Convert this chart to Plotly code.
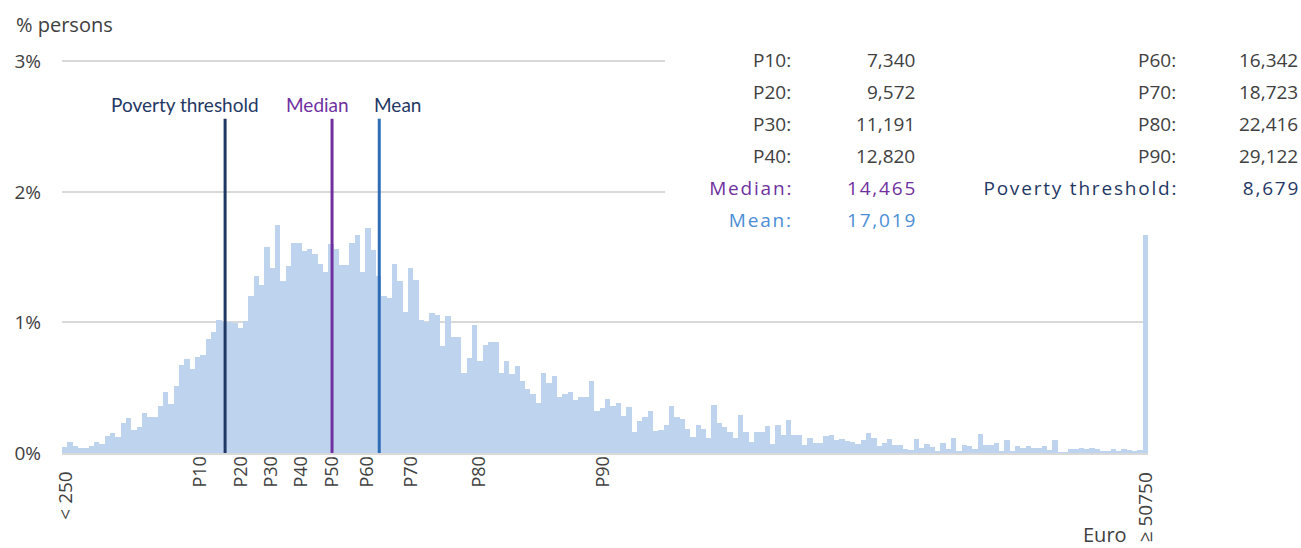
import plotly.graph_objects as go

# share of persons per 250-euro income band, first band "< 250", last "≥ 50750"
shares = [
    0.046, 0.084, 0.056, 0.041, 0.038, 0.056, 0.082, 0.069, 0.133, 0.153,
    0.125, 0.227, 0.268, 0.176, 0.200, 0.306, 0.278, 0.278, 0.360, 0.464,
    0.372, 0.513, 0.676, 0.722, 0.640, 0.737, 0.750, 0.872, 0.929, 1.020,
    1.005, 1.005, 0.997, 0.960, 1.013, 1.204, 1.352, 1.290, 1.577, 1.420,
    1.745, 1.319, 1.436, 1.612, 1.610, 1.548, 1.559, 1.526, 1.446, 1.388,
    1.600, 1.561, 1.441, 1.439, 1.610, 1.671, 1.385, 1.722, 1.551, 1.355,
    1.200, 1.190, 1.444, 1.319, 1.079, 1.418, 1.324, 1.015, 1.000, 1.071,
    1.059, 0.821, 1.051, 0.890, 0.890, 0.612, 0.724, 0.977, 0.704, 0.829,
    0.849, 0.849, 0.615, 0.704, 0.607, 0.668, 0.554, 0.490, 0.452, 0.383,
    0.612, 0.536, 0.587, 0.431, 0.452, 0.464, 0.408, 0.431, 0.429, 0.551,
    0.319, 0.342, 0.411, 0.360, 0.383, 0.283, 0.349, 0.161, 0.242, 0.276,
    0.321, 0.166, 0.176, 0.214, 0.362, 0.276, 0.260, 0.181, 0.120, 0.212,
    0.181, 0.112, 0.370, 0.232, 0.199, 0.161, 0.112, 0.291, 0.161, 0.082,
    0.158, 0.158, 0.209, 0.071, 0.212, 0.135, 0.255, 0.135, 0.140, 0.064,
    0.112, 0.079, 0.077, 0.128, 0.135, 0.099, 0.105, 0.094, 0.087, 0.071,
    0.097, 0.153, 0.118, 0.056, 0.077, 0.105, 0.059, 0.059, 0.033, 0.020,
    0.105, 0.038, 0.069, 0.043, 0.015, 0.077, 0.028, 0.112, 0.018, 0.059,
    0.054, 0.033, 0.143, 0.064, 0.064, 0.077, 0.015, 0.099, 0.010, 0.056,
    0.041, 0.056, 0.041, 0.041, 0.051, 0.026, 0.097, 0.005, 0.005, 0.033,
    0.033, 0.038, 0.033, 0.038, 0.031, 0.015, 0.010, 0.028, 0.010, 0.031,
    0.020, 0.008, 0.023, 1.668,
]
first_band = "&lt; 250"
last_band = "≥ 50750"

pct_names = ["P10", "P20", "P30", "P40", "P50", "P60", "P70", "P80", "P90"]
pct_values = [7340, 9572, 11191, 12820, 14465, 16342, 18723, 22416, 29122]

poverty = 8679
median = 14465
mean = 17019

y_ticks = [0, 1, 2, 3]

# the source chart places its markers at roughly 288 euro per band
EURO_PER_BAND = 288

BAR = "#BDD3EE"
NAVY = "#1F3864"
PURPLE = "#7030A0"
BLUE_LINE = "#2E6DB5"
BLUE_TEXT = "#4A8ED6"
GREY = "#404040"
GRID = "#D9D9D9"

# plot area in pixels, used to place the free texts
L, R, T, B = 62, 1148, 60, 453


def pos(v):
    return v / EURO_PER_BAND


def px(x):
    return (x - L) / (R - L)


def py(y):
    return (B - y) / (B - T)


fig = go.Figure()
fig.add_trace(go.Bar(
    x=list(range(len(shares))), y=shares,
    marker=dict(color=BAR, line=dict(width=0)),
    hoverinfo="skip",
))

fig.update_layout(
    width=1301, height=548,
    margin=dict(l=L, r=1301 - R, t=T, b=548 - B),
    paper_bgcolor="white", plot_bgcolor="white",
    showlegend=False, bargap=0,
    font=dict(family="Open Sans", color=GREY),
    xaxis=dict(
        range=[-0.5, len(shares) - 0.5],
        tickvals=[pos(v) for v in pct_values], ticktext=pct_names,
        tickangle=-90, tickfont=dict(size=18, color=GREY),
        showgrid=False, zeroline=False,
        showline=True, linecolor=GRID, linewidth=2,
        ticks="", ticklabelstandoff=-6,
    ),
    yaxis=dict(
        range=[0, 3.01], tickvals=y_ticks, ticktext=[f"{t}%" for t in y_ticks],
        tickfont=dict(size=19, color=GREY),
        showgrid=True, gridcolor=GRID, gridwidth=1.5,
        zeroline=False, ticks="", ticklabelstandoff=20,
    ),
)

# band labels at both ends of the axis
for i, txt in [(0, first_band), (len(shares) - 1, last_band)]:
    fig.add_annotation(x=i, y=py(470), xref="x", yref="paper", text=txt,
                       textangle=-90, showarrow=False, xanchor="center", yanchor="top",
                       font=dict(size=19, color=GREY))

# white panel behind the statistics table (hides gridlines there)
fig.add_shape(type="rect", xref="paper", yref="paper",
              x0=px(665), x1=px(1301), y0=py(232), y1=py(40),
              fillcolor="white", line=dict(width=0), layer="above")

line_top = 2.56
for val, col, label, shift in [
    (poverty, NAVY, "Poverty threshold", -40),
    (median, PURPLE, "Median", -15),
    (mean, BLUE_LINE, "Mean", 18),
]:
    fig.add_shape(type="line", xref="x", yref="y",
                  x0=pos(val), x1=pos(val), y0=0, y1=line_top,
                  line=dict(color=col, width=3), layer="above")
    fig.add_annotation(x=pos(val), y=2.67, xref="x", yref="y",
                       text=label, showarrow=False, xshift=shift,
                       font=dict(family="Lato", size=19,
                                 color=PURPLE if col == PURPLE else NAVY))

fig.add_annotation(x=px(14), y=py(24), xref="paper", yref="paper",
                   text="% persons", showarrow=False, xanchor="left", yanchor="middle",
                   font=dict(size=20, color=GREY))
fig.add_annotation(x=px(1129), y=py(534), xref="paper", yref="paper",
                   text="Euro", showarrow=False, xanchor="right", yanchor="middle",
                   font=dict(size=20, color=GREY))

spaced = []


def table_cell(x, y, text, color):
    if color != GREY:
        spaced.append(len(fig.layout.annotations))
    fig.add_annotation(x=px(x), y=py(y), xref="paper", yref="paper",
                       text=text, showarrow=False, xanchor="right", yanchor="middle",
                       font=dict(family="Open Sans", size=19, color=color))


rows_y = [60, 92, 124, 156, 188, 220]
for i in range(4):
    table_cell(793, rows_y[i], pct_names[i] + ":", GREY)
    table_cell(917, rows_y[i], f"{pct_values[i]:,}", GREY)
    table_cell(1178, rows_y[i], pct_names[i + 5] + ":", GREY)
    table_cell(1300, rows_y[i], f"{pct_values[i + 5]:,}", GREY)
table_cell(793, rows_y[4], "Median:", PURPLE)
table_cell(917, rows_y[4], f"{median:,}", PURPLE)
table_cell(1178, rows_y[4], "Poverty threshold:", NAVY)
table_cell(1300, rows_y[4], f"{poverty:,}", NAVY)
table_cell(793, rows_y[5], "Mean:", BLUE_TEXT)
table_cell(917, rows_y[5], f"{mean:,}", BLUE_TEXT)

# page has no margin; the coloured table entries are letter-spaced, kept right aligned
post = """
document.body.style.margin = '0';
var spaced = %s, gap = 1.8;
document.querySelectorAll('g.annotation').forEach(function (g) {
  if (spaced.indexOf(+g.getAttribute('data-index')) < 0) return;
  var t = g.querySelector('text.annotation-text');
  var bb = t.getBBox();
  t.setAttribute('text-anchor', 'end');
  t.setAttribute('x', bb.x + bb.width + gap);
  t.style.letterSpacing = gap + 'px';
});
""" % spaced

fig.write_html("out.html", config={"displayModeBar": False}, post_script=post)
